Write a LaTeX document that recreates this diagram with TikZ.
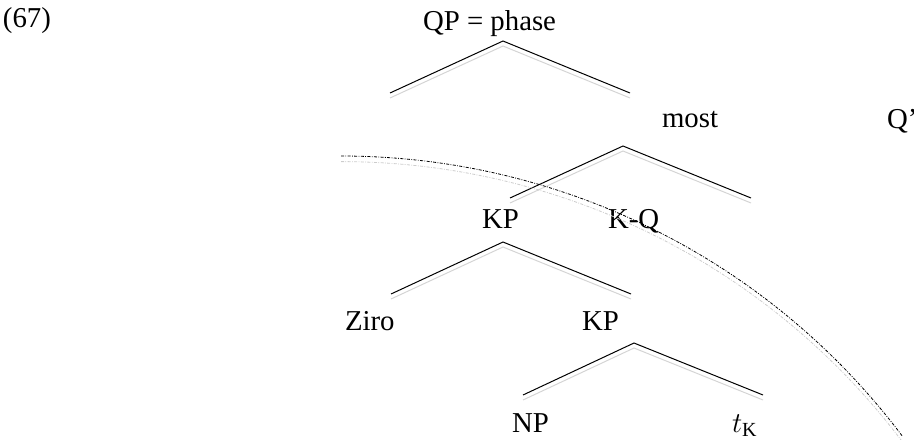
\documentclass[tikz,border=0pt]{standalone}
\usepackage{fontspec}
\setmainfont{Liberation Serif}
\begin{document}
\begin{tikzpicture}[x=0.5pt,y=-0.5pt,
  lbl/.style={anchor=base west,inner sep=0pt,outer sep=0pt,font=\fontsize{14.4}{17}\selectfont},
  branch/.style={draw=black,line width=0.5pt},
  shade/.style={draw=black!17,line width=0.5pt},
  arcline/.style={line width=0.4pt,dash pattern=on 1.5pt off 0.7pt on 0.4pt off 0.7pt}]
\useasboundingbox (0,0) rectangle (914,439);
% labels
\node[lbl] (ex) at (3,27) {(67)};
\node[lbl] (qp) at (423,31) {QP = phase};
\node[lbl] (most) at (662,127) {most};
\node[lbl] (qbar) at (887,128) {Q'};
\node[lbl] (kp1) at (482,228) {KP};
\node[lbl] (kq) at (608,228) {K-Q};
\node[lbl] (ziro) at (345,330) {Ziro};
\node[lbl] (kp2) at (582,330) {KP};
\node[lbl] (np) at (512,432) {NP};
\node[lbl] (tk) at (732,432) {$t_{\mathrm{K}}$};
% tree coordinates
\coordinate (a1) at (503,41);  \coordinate (l1) at (390,93);  \coordinate (r1) at (630,93);
\coordinate (a2) at (623,146); \coordinate (l2) at (510,198); \coordinate (r2) at (751,198);
\coordinate (a3) at (503,242); \coordinate (l3) at (391,294); \coordinate (r3) at (631,294);
\coordinate (a4) at (634,343); \coordinate (l4) at (523,395); \coordinate (r4) at (763,395);
\foreach \i in {1,2,3,4}{
  \draw[shade] ([yshift=-2.5pt]l\i) -- ([yshift=-2.5pt]a\i) -- ([yshift=-2.5pt]r\i);
  \draw[branch] (l\i) -- (a\i) -- (r\i);
}
% phase boundary arc
\coordinate (cc) at (341,858.5);
\draw[arcline,black!20] ([yshift=-2.8pt]cc) ++(90:351.25pt) arc[start angle=90,end angle=36.9,radius=351.25pt];
\draw[arcline,black] (cc) ++(90:351.25pt) arc[start angle=90,end angle=36.9,radius=351.25pt];
\end{tikzpicture}
\end{document}
